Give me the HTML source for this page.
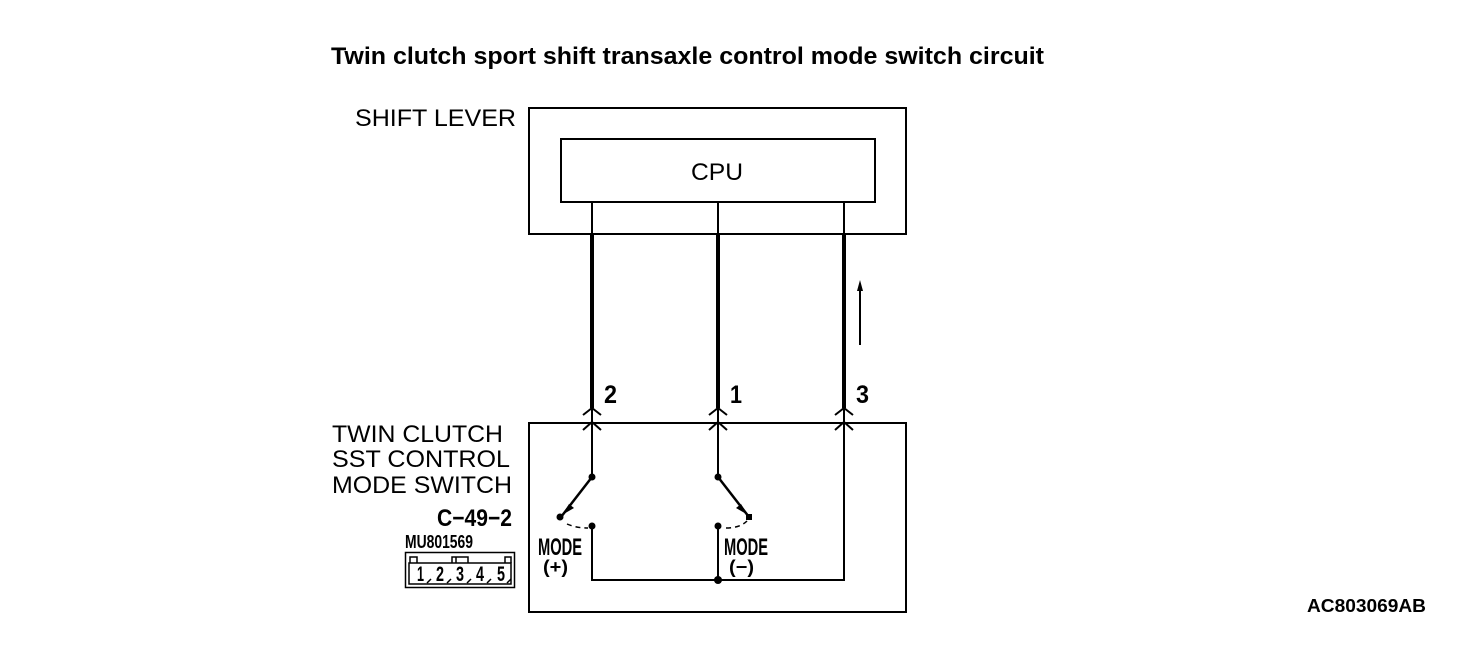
<!DOCTYPE html>
<html>
<head>
<meta charset="utf-8">
<style>
html,body{margin:0;padding:0;background:#fff;width:1472px;height:658px;overflow:hidden}
svg{display:block}
text{font-family:"Liberation Sans",sans-serif;fill:#000}
.b{font-weight:bold}
</style>
</head>
<body>
<svg width="1472" height="658" viewBox="0 0 1472 658" xmlns="http://www.w3.org/2000/svg">
<rect width="1472" height="658" fill="#fff"/>
<text class="b" x="331" y="64" font-size="24" textLength="713" lengthAdjust="spacingAndGlyphs">Twin clutch sport shift transaxle control mode switch circuit</text>
<text x="355" y="126" font-size="24" textLength="161" lengthAdjust="spacingAndGlyphs">SHIFT LEVER</text>
<text x="691" y="180" font-size="24" textLength="52" lengthAdjust="spacingAndGlyphs">CPU</text>
<text x="332" y="442" font-size="24" textLength="171" lengthAdjust="spacingAndGlyphs">TWIN CLUTCH</text>
<text x="332" y="467" font-size="24" textLength="178" lengthAdjust="spacingAndGlyphs">SST CONTROL</text>
<text x="332" y="493" font-size="24" textLength="180" lengthAdjust="spacingAndGlyphs">MODE SWITCH</text>
<text class="b" x="437" y="526" font-size="24" textLength="75" lengthAdjust="spacingAndGlyphs">C−49−2</text>
<text class="b" x="405" y="548" font-size="18" textLength="68" lengthAdjust="spacingAndGlyphs">MU801569</text>
<text class="b" x="604" y="403" font-size="25" textLength="13" lengthAdjust="spacingAndGlyphs">2</text>
<text class="b" x="730" y="403" font-size="25" textLength="12" lengthAdjust="spacingAndGlyphs">1</text>
<text class="b" x="856" y="403" font-size="25" textLength="13" lengthAdjust="spacingAndGlyphs">3</text>
<text class="b" x="538" y="555" font-size="24" textLength="44" lengthAdjust="spacingAndGlyphs">MODE</text>
<text class="b" x="543" y="573" font-size="18" textLength="25" lengthAdjust="spacingAndGlyphs">(+)</text>
<text class="b" x="724" y="555" font-size="24" textLength="44" lengthAdjust="spacingAndGlyphs">MODE</text>
<text class="b" x="729" y="573" font-size="18" textLength="25" lengthAdjust="spacingAndGlyphs">(−)</text>
<text class="b" x="1307" y="612" font-size="18.5" textLength="119" lengthAdjust="spacingAndGlyphs">AC803069AB</text>

<g fill="none" stroke="#000" stroke-width="2">
<path d="M529 108H906V234H529Z"/>
<path d="M561 139H875V202H561Z"/>
<path d="M529 423H906V612H529Z"/>
<path d="M592 202V234M718 202V234M844 202V234"/>
<path d="M592 408V477M718 408V477M844 408V580H592V526M718 526V580"/>
<path d="M583 415L592 408L601 415M709 415L718 408L727 415M835 415L844 408L853 415"/>
<path d="M583 430L592 422L601 430M709 430L718 422L727 430M835 430L844 422L853 430"/>
<path d="M592 477L561 517M718 477L749 517" stroke-width="2.500"/>
<path d="M567 524Q576 528 588 528M726 528Q740 528 747 521" stroke-width="1.500" stroke-dasharray="5 4"/>
</g>
<g fill="#000">
<rect x="590" y="234" width="4" height="174"/>
<rect x="716" y="234" width="4" height="174"/>
<rect x="842" y="234" width="4" height="174"/>
<circle cx="592" cy="477" r="3.500"/>
<circle cx="718" cy="477" r="3.500"/>
<circle cx="560" cy="517" r="3.500"/>
<rect x="746" y="514" width="6" height="6"/>
<circle cx="592" cy="526" r="3.500"/>
<circle cx="718" cy="526" r="3.500"/>
<circle cx="718" cy="580" r="4"/>
<path d="M569 504L562 515L574 508ZM741 504L748 515L736 508Z"/>
<rect x="859" y="290" width="2" height="55"/>
<path d="M860 280L863 291H857Z"/>
</g>

<g fill="none" stroke="#000" stroke-width="1.500">
<rect x="405.500" y="552.500" width="109" height="35"/>
<path d="M410 563V557H417V563M505 563V557H511V563"/>
<path d="M452 563V557H468V563M456 557V563"/>
<path d="M409 563H511V584H409Z"/>
<path d="M427 583L431 579M447 583L451 579M467 583L471 579M487 583L491 579M507 583L511 579"/>
</g>
<text class="b" x="417" y="581" font-size="21" textLength="7" lengthAdjust="spacingAndGlyphs">1</text>
<text class="b" x="436" y="581" font-size="21" textLength="8" lengthAdjust="spacingAndGlyphs">2</text>
<text class="b" x="456" y="581" font-size="21" textLength="8" lengthAdjust="spacingAndGlyphs">3</text>
<text class="b" x="476" y="581" font-size="21" textLength="8" lengthAdjust="spacingAndGlyphs">4</text>
<text class="b" x="497" y="581" font-size="21" textLength="8" lengthAdjust="spacingAndGlyphs">5</text>
</svg>
</body>
</html>
